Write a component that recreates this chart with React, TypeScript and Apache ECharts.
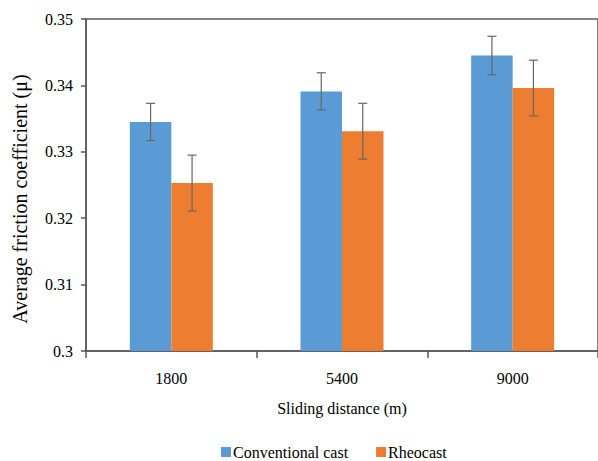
import React, { useEffect, useRef } from "react";
import * as echarts from "echarts";

const categories = ["1800", "5400", "9000"];
const seriesNames = ["Conventional cast", "Rheocast"];
const conventionalValues = [0.3345, 0.3391, 0.3445];
const rheocastValues = [0.3253, 0.3331, 0.3396];
const conventionalErr = [0.0028, 0.0028, 0.0029];
const rheocastErr = [0.0042, 0.0042, 0.0042];

const FONT = "Liberation Serif";
const BAR_W = 41.5;

function errorSeries(values: number[], errs: number[], offset: number) {
  return {
    type: "custom",
    silent: true,
    z: 5,
    data: values.map((v, i) => [i, v - errs[i], v + errs[i]]),
    encode: { x: 0, y: [1, 2] },
    renderItem: (params: any, api: any) => {
      const i = api.value(0);
      const lo = api.coord([i, api.value(1)]);
      const hi = api.coord([i, api.value(2)]);
      const x = lo[0] + offset;
      const cap = 4.5;
      const style = { stroke: "#666666", lineWidth: 1.2 };
      return {
        type: "group",
        children: [
          { type: "line", shape: { x1: x, y1: lo[1], x2: x, y2: hi[1] }, style },
          { type: "line", shape: { x1: x - cap, y1: lo[1], x2: x + cap, y2: lo[1] }, style },
          { type: "line", shape: { x1: x - cap, y1: hi[1], x2: x + cap, y2: hi[1] }, style },
        ],
      };
    },
  };
}

export default function App() {
  const ref = useRef<HTMLDivElement>(null);
  useEffect(() => {
    document.body.style.margin = "0";
    const chart = echarts.init(ref.current!, null, { renderer: "svg" });
    chart.setOption({
      animation: false,
      backgroundColor: "#ffffff",
      textStyle: { fontFamily: FONT },
      grid: {
        left: 86,
        top: 19,
        width: 515,
        height: 332,
        show: true,
        borderColor: "#595959",
        borderWidth: 1.5,
      },
      legend: {
        data: seriesNames,
        left: 216,
        top: 439,
        icon: "rect",
        itemWidth: 10,
        itemHeight: 10,
        itemGap: 28,
        textStyle: { fontFamily: FONT, fontSize: 16, color: "#000", padding: [0, 0, 0, -3] },
      },
      xAxis: {
        type: "category",
        data: categories,
        name: "Sliding distance (m)",
        nameLocation: "middle",
        nameGap: 49,
        nameTextStyle: { fontFamily: FONT, fontSize: 16, color: "#000" },
        axisLine: { lineStyle: { color: "#595959", width: 1.5 } },
        axisTick: { show: true, length: 7, lineStyle: { color: "#595959", width: 1.5 } },
        axisLabel: { fontFamily: FONT, fontSize: 16, color: "#000", margin: 19 },
      },
      yAxis: {
        type: "value",
        min: 0.3,
        max: 0.35,
        interval: 0.01,
        name: "Average friction coefficient (μ)",
        nameLocation: "middle",
        nameGap: 56,
        nameTextStyle: { fontFamily: FONT, fontSize: 20, color: "#000", padding: [0, 28, 0, 0] },
        axisLine: { show: true, lineStyle: { color: "#595959", width: 1.5 } },
        axisTick: { show: true, length: 5, lineStyle: { color: "#595959", width: 1.5 } },
        axisLabel: {
          fontFamily: FONT,
          fontSize: 16,
          color: "#000",
          margin: 13,
          formatter: (v: number) => String(Math.round(v * 100) / 100),
        },
        splitLine: { show: false },
      },
      series: [
        {
          name: seriesNames[0],
          type: "bar",
          data: conventionalValues,
          barWidth: BAR_W,
          barGap: "0%",
          itemStyle: { color: "#5B9BD5" },
        },
        {
          name: seriesNames[1],
          type: "bar",
          data: rheocastValues,
          barWidth: BAR_W,
          barGap: "0%",
          itemStyle: { color: "#ED7D31" },
        },
        errorSeries(conventionalValues, conventionalErr, -BAR_W / 2),
        errorSeries(rheocastValues, rheocastErr, BAR_W / 2),
      ],
    });
    return () => chart.dispose();
  }, []);
  return <div ref={ref} style={{ width: 598, height: 461 }} />;
}
